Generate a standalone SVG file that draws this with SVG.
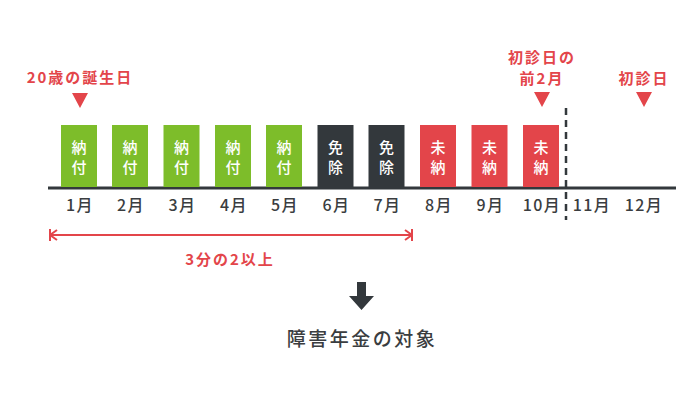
<svg xmlns="http://www.w3.org/2000/svg" width="700" height="400" viewBox="0 0 700 400">
<style>
text{font-family:"Noto Sans CJK JP","Noto Sans",sans-serif;text-anchor:middle;dominant-baseline:central}
.red{fill:#e3454a;font-size:15px;font-weight:700;letter-spacing:2px}
.mon{fill:#3a3d40;font-size:16px;font-weight:500;letter-spacing:1.5px}
.bt{fill:#fff;font-size:15px;font-weight:500}
.g{fill:#7dbd2a}.d{fill:#33383c}.r{fill:#e3454a}
.tri{fill:#e3454a}
.main{fill:#3a3d40;font-size:19px;font-weight:500;letter-spacing:2.5px}
</style>
<defs>
<marker id="ah" viewBox="0 0 10 12" refX="9" refY="6" markerWidth="10" markerHeight="12" markerUnits="userSpaceOnUse" orient="auto-start-reverse">
<path d="M2,1 L9,6 L2,11 M9,0 V12" fill="none" stroke="#e3454a" stroke-width="2"/>
</marker>
</defs>
<g id="connectors">
<line x1="48" y1="188" x2="676" y2="188" stroke="#33383c" stroke-width="3"/>
<line x1="566" y1="108" x2="566" y2="220" stroke="#33383c" stroke-width="2.5" stroke-dasharray="7,5"/>
<line x1="50" y1="235" x2="412" y2="235" stroke="#e3454a" stroke-width="2" marker-start="url(#ah)" marker-end="url(#ah)"/>
<path d="M357,282 H366 V296 H374 L361.5,310 L349,296 H357 Z" fill="#33383c"/>
</g>
<g id="label-birth"><text class="red" x="80" y="76">20歳の誕生日</text><path class="tri" d="M72,93 H88 L80,108 Z"/></g>
<g id="label-before"><text class="red" x="542" y="56">初診日の</text><text class="red" x="542" y="77">前2月</text><path class="tri" d="M534,92 H550 L542,107 Z"/></g>
<g id="label-first"><text class="red" x="644" y="77">初診日</text><path class="tri" d="M636,92 H652 L644,107 Z"/></g>
<g id="m1"><rect class="g" x="61" y="125" width="36" height="62"/><text class="bt" x="79" y="146">納</text><text class="bt" x="79" y="166">付</text><text class="mon" x="80" y="204">1月</text></g>
<g id="m2"><rect class="g" x="112" y="125" width="36" height="62"/><text class="bt" x="130" y="146">納</text><text class="bt" x="130" y="166">付</text><text class="mon" x="131" y="204">2月</text></g>
<g id="m3"><rect class="g" x="163.5" y="125" width="36" height="62"/><text class="bt" x="181.5" y="146">納</text><text class="bt" x="181.5" y="166">付</text><text class="mon" x="182.5" y="204">3月</text></g>
<g id="m4"><rect class="g" x="215" y="125" width="36" height="62"/><text class="bt" x="233" y="146">納</text><text class="bt" x="233" y="166">付</text><text class="mon" x="234" y="204">4月</text></g>
<g id="m5"><rect class="g" x="266" y="125" width="36" height="62"/><text class="bt" x="284" y="146">納</text><text class="bt" x="284" y="166">付</text><text class="mon" x="285" y="204">5月</text></g>
<g id="m6"><rect class="d" x="317.5" y="125" width="36" height="62"/><text class="bt" x="335.5" y="146">免</text><text class="bt" x="335.5" y="166">除</text><text class="mon" x="336.5" y="204">6月</text></g>
<g id="m7"><rect class="d" x="368.5" y="125" width="36" height="62"/><text class="bt" x="386.5" y="146">免</text><text class="bt" x="386.5" y="166">除</text><text class="mon" x="387.5" y="204">7月</text></g>
<g id="m8"><rect class="r" x="420" y="125" width="36" height="62"/><text class="bt" x="438" y="146">未</text><text class="bt" x="438" y="166">納</text><text class="mon" x="439" y="204">8月</text></g>
<g id="m9"><rect class="r" x="471.5" y="125" width="36" height="62"/><text class="bt" x="489.5" y="146">未</text><text class="bt" x="489.5" y="166">納</text><text class="mon" x="490.5" y="204">9月</text></g>
<g id="m10"><rect class="r" x="523" y="125" width="36" height="62"/><text class="bt" x="541" y="146">未</text><text class="bt" x="541" y="166">納</text><text class="mon" x="542" y="204">10月</text></g>
<g id="m11"><text class="mon" x="592" y="204">11月</text></g>
<g id="m12"><text class="mon" x="644" y="204">12月</text></g>
<g id="span-label"><text class="red" x="230" y="258">3分の2以上</text></g>
<g id="result"><text class="main" x="362" y="337">障害年金の対象</text></g>
</svg>
